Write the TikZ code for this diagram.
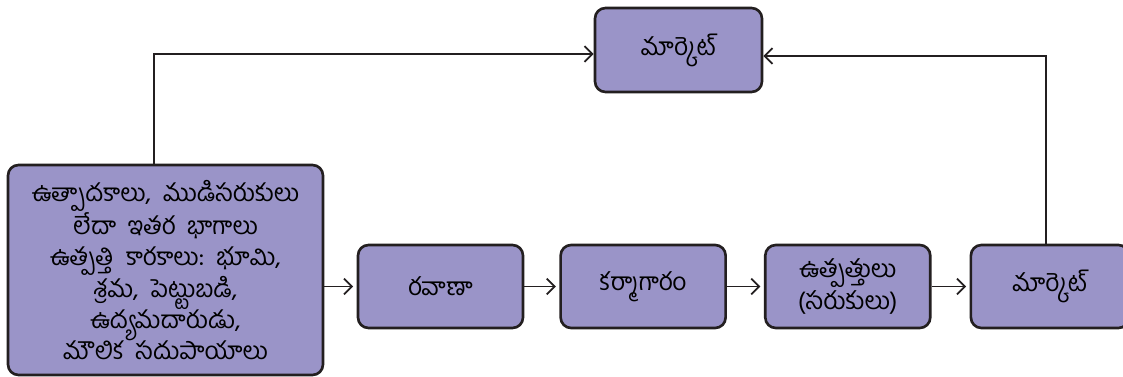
\documentclass[tikz,border=0pt]{standalone}
\usepackage{fontspec}
\newfontfamily\telugufont[Script=Telugu]{Hind Guntur}
\usepackage{tikz}
\usetikzlibrary{arrows.meta,positioning,calc}
\definecolor{boxfill}{HTML}{9A94C8}
\definecolor{boxline}{HTML}{231F20}

\begin{document}
\begin{tikzpicture}[
  >={Straight Barb[length=4.5pt,width=9pt]},
  node distance=0.7cm,
  every node/.style={draw=boxline, fill=boxfill, rounded corners=6pt, line width=1.5pt,
    align=center, font=\telugufont\fontsize{14}{18.3}\selectfont},
  arrow/.style={->, line width=1pt, draw=boxline}
]
\useasboundingbox (0,0) rectangle (22.46,-7.54);

% TOP MARKET
\node (topmarket) [minimum width=3.34cm, minimum height=1.68cm] at (13.57,-1.0) {మార్కెట్};

% INPUTS
\node (inputs) [minimum width=6.3cm, minimum height=4.2cm, inner sep=2pt,
                font=\telugufont\fontsize{13.9}{17.8}\selectfont] at (3.31,-5.4)
  {ఉత్పాదకాలు,\ \ ముడిసరుకులు \\ లేదా\ \ ఇతర\ \ భాగాలు \\ ఉత్పత్తి\ \ కారకాలు:\ \ భూమి, \\
   శ్రమ,\ \ పెట్టుబడి, \\ ఉద్యమదారుడు, \\ మౌలిక\ \ సదుపాయాలు};

% PRODUCTION CHAIN
\node (transport) [minimum width=3.3cm, minimum height=1.66cm] at (8.81,-5.73) {రవాణా};
\node (factory)   [right=0.7cm of transport, minimum width=3.3cm, minimum height=1.66cm] {కర్మాగారం};
\node (goods)     [right=0.74cm of factory, minimum width=3.3cm, minimum height=1.66cm]
                  {ఉత్పత్తులు \\ (సరుకులు)};
\node (market)    [right=0.76cm of goods, minimum width=3.16cm, minimum height=1.66cm] {మార్కెట్};

\draw[arrow, shorten >=2pt] (inputs.east |- transport) -- (transport);
\draw[arrow, shorten >=2pt] (transport) -- (factory);
\draw[arrow, shorten >=2pt] (factory)   -- (goods);
\draw[arrow, shorten >=2pt] (goods)     -- (market);
\draw[arrow] (inputs.north -| 3.08,0) |- ([yshift=-0.08cm]topmarket.west);
\draw[arrow] (market.north -| 20.92,0) |- ([yshift=-0.12cm]topmarket.east);
\end{tikzpicture}
\end{document}
